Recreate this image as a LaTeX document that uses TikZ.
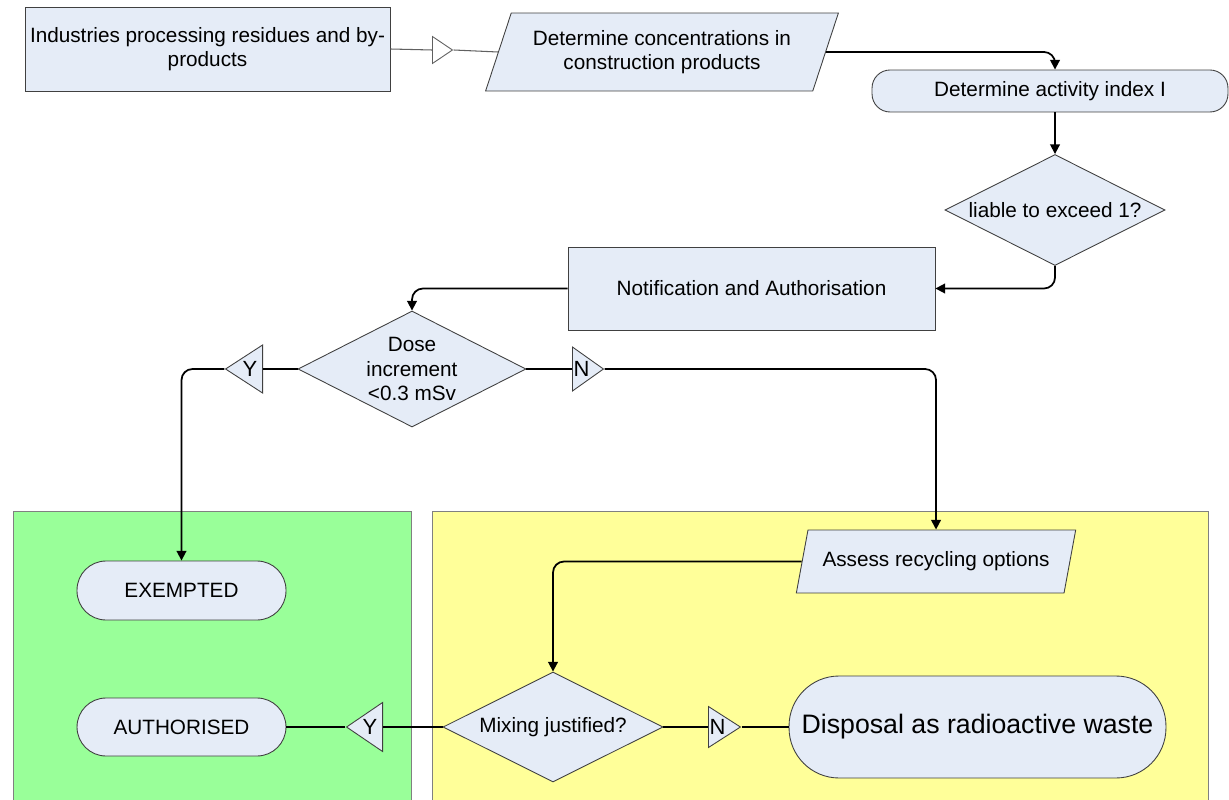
\documentclass[tikz,border=0pt]{standalone}
\usepackage{fontspec}
\setmainfont{Liberation Sans}
\usetikzlibrary{arrows.meta,positioning,shapes.geometric,shapes.misc}
\definecolor{cBox}{HTML}{E5ECF7}
\definecolor{cEdge}{HTML}{404040}
\definecolor{cGreen}{HTML}{99FF99}
\definecolor{cYellow}{HTML}{FFFF99}
\definecolor{cFrame}{HTML}{808080}
\definecolor{cLink}{HTML}{606060}
\tikzset{
  every picture/.style={line width=0.5pt},
  base/.style={draw=cEdge, fill=cBox, align=center, inner sep=2pt, text=black,
               font=\fontsize{11.8}{13.8}\selectfont},
  pbox/.style={base, rectangle},
  iobox/.style={base, trapezium, trapezium left angle=#1, trapezium right angle=180-#1,
                trapezium stretches=true},
  tbox/.style={base, rectangle, rounded corners=#1},
  dbox/.style={base, diamond, aspect=2, inner sep=0pt},
  tri/.style={base, isosceles triangle, isosceles triangle stretches, inner sep=0pt},
  ytri/.style={tri, shape border rotate=180, anchor=east,
               label={[anchor=center, xshift=-0.26cm, font=\fontsize{12.5}{14}\selectfont]east:#1}},
  ntri/.style={tri, shape border rotate=0, anchor=west,
               label={[anchor=center, xshift=0.19cm, font=\fontsize{12.5}{14}\selectfont]west:#1}},
  zone/.style={draw=cFrame, line width=0.8pt, rectangle, anchor=north west, inner sep=0pt},
  flow/.style={-{Triangle[length=5.5pt,width=5.5pt]}, draw=black, line width=1pt,
               rounded corners=0.22cm},
  link/.style={draw=black, line width=0.6pt},
}

\begin{document}
\begin{tikzpicture}[x=0.02cm,y=-0.02cm]
\useasboundingbox (0,0) rectangle (1229,800);

% ---------------------------------------------- outcome zones
\node[zone, fill=cGreen,  minimum width=7.96cm,  minimum height=6.0cm] (exzone)  at (13,511) {};
\node[zone, fill=cYellow, minimum width=15.52cm, minimum height=6.0cm] (reczone) at (432,511) {};

% ---------------------------------------------- top row
\node[pbox, minimum width=7.3cm, minimum height=1.68cm] (ind) at (207.5,49)
      {Industries processing residues and by-\\products};
\node[tri, anchor=west, fill=white, draw=cLink, minimum height=0.4cm, minimum width=0.54cm] (tri0) at (432,50) {};
\node[iobox=66, minimum width=7.06cm, minimum height=1.56cm] (conc) at (662,52)
      {Determine concentrations in\\construction products};
\node[tbox=0.36cm, minimum width=7.12cm, minimum height=0.84cm] (act) at (1050,91)
      {Determine activity index I};
\node[dbox, minimum width=4.4cm, minimum height=2.22cm] (liab) at (1055,210)
      {liable to exceed 1?};
\node[pbox, minimum width=7.34cm, minimum height=1.66cm] (notif) at (751.5,288.5)
      {Notification and Authorisation};

% ---------------------------------------------- dose decision
\node[dbox, minimum width=4.56cm, minimum height=2.32cm] (dose) at (412,369)
      {Dose\\increment\\<0.3 mSv};
\node[ytri=Y, minimum height=0.74cm, minimum width=0.96cm] (ty1) at (263,369) {};
\node[ntri=N, minimum height=0.62cm, minimum width=0.88cm] (tn1) at (572,369) {};

% ---------------------------------------------- outcomes
\node[tbox=0.58cm, minimum width=4.18cm, minimum height=1.18cm] (exem) at (181.5,590.5) {EXEMPTED};
\node[tbox=0.58cm, minimum width=4.18cm, minimum height=1.16cm] (auth) at (181.5,727) {AUTHORISED};
\node[iobox=68, minimum width=5.6cm, minimum height=1.26cm] (assess) at (936,561.5)
      {Assess recycling options};
\node[dbox, minimum width=4.4cm, minimum height=2.2cm] (mix) at (553,727) {Mixing justified?};
\node[ytri=Y, minimum height=0.72cm, minimum width=0.98cm] (ty2) at (383,727) {};
\node[ntri=N, minimum height=0.64cm, minimum width=0.82cm] (tn2) at (708,727) {};
\node[tbox=1.0cm, minimum width=7.54cm, minimum height=2.04cm,
      font=\fontsize{15.2}{18}\selectfont] (disp) at (977.5,727) {Disposal as radioactive waste};

% ---------------------------------------------- connectors
\draw[link, draw=cLink] (ind.east) -- (tri0.west);
\draw[link, draw=cLink] (tri0.east) -- (conc.west);
\draw[flow] (conc.east) -| (liab.north |- act.north);
\draw[flow] (act.south -| liab.north) -- (liab.north);
\draw[flow] (liab.south) |- (notif.east);
\draw[flow] (notif.west) -| (dose.north);

\draw[link] (dose.west) -- (ty1.east);
\draw[flow] (ty1.west) -| (exem.north);
\draw[link] (dose.east) -- (tn1.west);
\draw[flow] (tn1.east) -| (assess.north);

\draw[flow] (assess.west) -| (mix.north);
\draw[link] (mix.west) -- (ty2.east);
\draw[link] (ty2.west) -- (auth.east);
\draw[link] (mix.east) -- (tn2.west);
\draw[link] (tn2.east) -- (disp.west);

\end{tikzpicture}
\end{document}
